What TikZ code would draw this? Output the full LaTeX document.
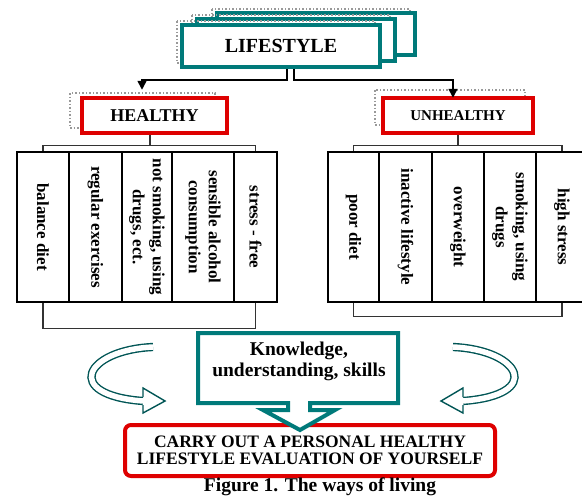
\documentclass[tikz,border=0pt]{standalone}
\usepackage{fontspec}
\setmainfont{Liberation Serif}
\usetikzlibrary{arrows.meta}
\definecolor{lsteal}{RGB}{0,122,122}
\definecolor{lsred}{RGB}{222,0,0}
\tikzstyle{frame} = [draw=lsteal, line width=4pt, fill=white]
\tikzstyle{shade} = [draw=gray!80, dotted, line width=1.5pt]
\tikzstyle{branch} = [draw=lsred, line width=4.5pt, fill=white, minimum height=35pt]
\tikzstyle{item} = [draw=black, line width=2.5pt, fill=white, rotate=-90, minimum width=150pt, inner sep=0pt, align=center, font={\fontsize{17}{20}\bfseries\selectfont}]
\tikzstyle{bracket} = [draw=black!80, line width=1.2pt]
\tikzstyle{flow} = [draw=black, line width=1.6pt, -{Triangle[length=9pt,width=9pt]}]
\tikzstyle{hollow} = [draw=lsteal!70!black, double=white, double distance=5.5pt, line width=1.4pt]
\tikzstyle{hollowhead} = [draw=lsteal!70!black, line width=1.4pt, fill=white, line join=miter]

\begin{document}
\begin{tikzpicture}[x=1pt,y=-1pt]
  \useasboundingbox (0,0) rectangle (582,496);
  \clip (0,0) rectangle (582,496);

  % stacked frames behind the top box
  \foreach \dx/\dy in {35/-12, 15/-6} {
    \draw[shade] (177+\dx,21+\dy) rectangle (375+\dx,63+\dy);
    \draw[frame] (182+\dx,25+\dy) rectangle (380+\dx,67+\dy);
  }
  \draw[shade] (177,21) rectangle (375,63);
  \node[frame, minimum width=198pt, minimum height=42pt, font={\fontsize{20}{24}\bfseries\selectfont}](lifestyle) at (281,46){LIFESTYLE};

  % the two branches
  \draw[shade] (70,93) rectangle (215,128);
  \draw[shade] (375,90) rectangle (525,125);
  \node[branch, minimum width=145pt, font={\fontsize{18}{20}\bfseries\selectfont}](healthy) at (154.5,115.5){HEALTHY};
  \node[branch, minimum width=150pt, font={\fontsize{15}{18}\bfseries\selectfont}](unhealthy) at (458,115.5){UNHEALTHY};
  \draw[flow]([xshift=6pt]lifestyle.south) -- ++(0,11) -| ([xshift=-12.5pt,yshift=6pt]healthy.north);
  \draw[flow]([xshift=13pt]lifestyle.south) -- ++(0,11) -| ([xshift=-5pt,yshift=-2pt]unhealthy.north);

  % healthy habits
  \node[item, minimum height=52pt](h1) at (43,227){balance diet};
  \node[item, minimum height=53pt](h2) at (95.5,227){regular exercises};
  \node[item, minimum height=50pt](h3) at (147,227){not smoking, using\\drugs, ect.};
  \node[item, minimum height=62pt](h4) at (203,227){sensible alcohol\\consumption};
  \node[item, minimum height=43pt](h5) at (255.5,227){stress - free};

  % unhealthy habits
  \node[item, minimum height=51pt](u1) at (353.5,227){poor diet};
  \node[item, minimum height=53pt](u2) at (405.5,227){inactive lifestyle};
  \node[item, minimum height=52pt](u3) at (458,227){overweight};
  \node[item, minimum height=52pt](u4) at (510,227){smoking, using\\drugs};
  \node[item, minimum height=52pt](u5) at (562,227){high stress};

  \draw[bracket]([xshift=-4.5pt]healthy.south) -- ++(0,10) coordinate(hb);
  \draw[bracket](h1.west) |- (hb) -| (h5.west);
  \draw[bracket](h1.east) -- ++(0,25) -| (h5.east);
  \draw[bracket](unhealthy.south) -- ++(0,10) coordinate(ub);
  \draw[bracket](u1.west) |- (ub) -| (u5.west);
  \draw[bracket](u1.east) -- ++(0,13) -| (u5.east);

  % evaluation box and knowledge callout
  \node[draw=lsred, line width=4pt, rounded corners=6pt, fill=white, minimum width=370pt, minimum height=51pt, align=center, font={\fontsize{17.5}{17.5}\bfseries\selectfont}](evaluation) at (310,450.5){CARRY OUT A PERSONAL HEALTHY\\LIFESTYLE EVALUATION OF YOURSELF};
  \draw[frame, line join=miter] (198,333) -- (398,333) -- (398,403) -- (310,403) -- (310,410) -- (335,410)
    -- (300,430) -- (263,410) -- (288,410) -- (288,403) -- (198,403) -- cycle;
  \node[align=center, font={\fontsize{19.5}{21}\bfseries\selectfont}](knowledge) at (299,361){Knowledge,\\understanding, skills};

  % curved arrows on both sides
  \draw[hollow] (153,347) .. controls (85,350) and (62,395) .. (143,401);
  \draw[hollowhead] (143,397) -- (143,388) -- (165,401) -- (143,413) -- (143,405);
  \draw[hollow] (453,347) .. controls (521,350) and (544,395) .. (463,401);
  \draw[hollowhead] (463,397) -- (463,388) -- (441,401) -- (463,413) -- (463,405);

  \node[anchor=base, font={\fontsize{19.5}{24}\bfseries\selectfont}](caption) at (320,491.5){Figure 1. The ways of living};
\end{tikzpicture}
\end{document}
